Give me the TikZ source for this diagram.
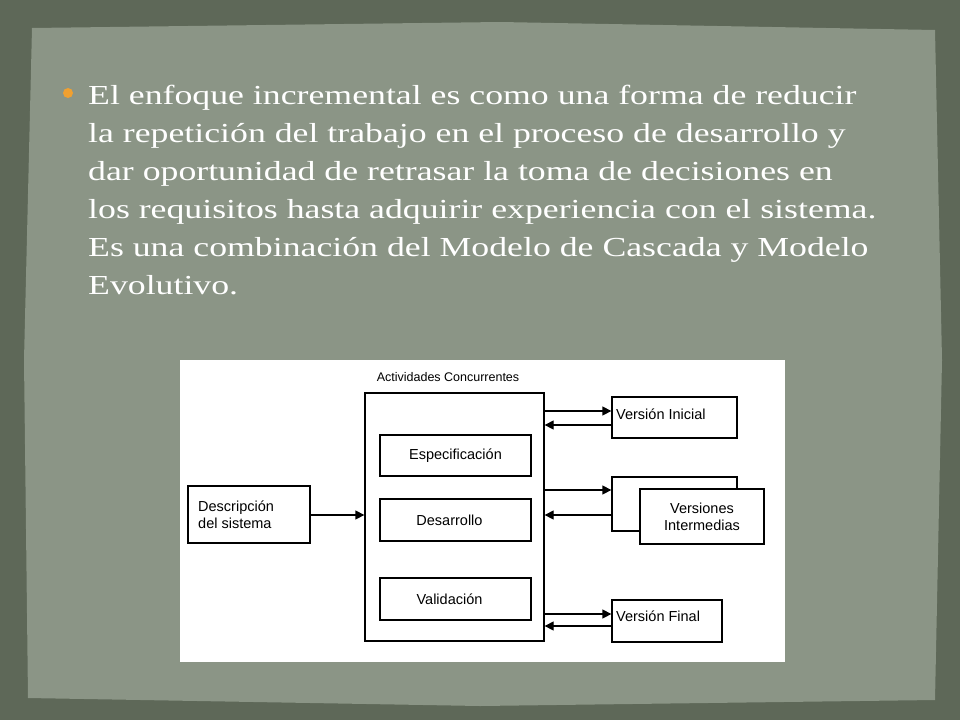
\documentclass[tikz,border=0pt]{standalone}
\usepackage{fontspec}
\setmainfont{Liberation Serif}[FakeStretch=1.3]
\newfontfamily\diag{Liberation Sans}
\usetikzlibrary{arrows.meta}
\definecolor{outerbg}{HTML}{5E6858}
\definecolor{panel}{HTML}{8B9586}
\definecolor{bul}{HTML}{F0A030}
\begin{document}
\begin{tikzpicture}[x=1pt,y=-1pt,
  txt/.style={anchor=base west,inner sep=0pt,font=\fontsize{27.5}{30}\selectfont,text=white},
  bx/.style={draw=black,line width=1.3pt,fill=white,inner sep=0pt,font=\diag\fontsize{14.5}{17}\selectfont,align=center},
  lbl/.style={anchor=west,inner sep=0pt,font=\diag\fontsize{14.5}{17}\selectfont},
  arr/.style={-{Triangle[length=9pt,width=9pt]},line width=1.3pt}]
\useasboundingbox (0,0) rectangle (960,720);
\fill[outerbg] (0,0) rectangle (960,720);
\fill[panel] (32,28) -- (500,22) -- (935,30) -- (942,360) -- (935,700) -- (480,706) -- (28,698) -- (24,360) -- cycle;
\fill[bul] (68,93) circle (5);
\node[txt] (l1) at (88,104) {El enfoque incremental es como una forma de reducir};
\node[txt] (l2) at (88,142) {la repetición del trabajo en el proceso de desarrollo y};
\node[txt] (l3) at (88,180) {dar oportunidad de retrasar la toma de decisiones en};
\node[txt] (l4) at (88,218) {los requisitos hasta adquirir experiencia con el sistema.};
\node[txt] (l5) at (88,256) {Es una combinación del Modelo de Cascada y Modelo};
\node[txt] (l6) at (88,294) {Evolutivo.};
\fill[white] (180,360) rectangle (785,662);
\node[font=\diag\fontsize{12.5}{14}\selectfont] (title) at (448,377) {Actividades Concurrentes};
\node[bx,minimum width=179,minimum height=248] (main) at (454.5,517) {};
\node[bx,minimum width=151,minimum height=41] (esp) at (455.5,455.5) {Especificación};
\node[bx,minimum width=151,minimum height=42] (des) at (455.5,520) {\hspace{-12pt}Desarrollo};
\node[bx,minimum width=151,minimum height=42] (val) at (455.5,599) {\hspace{-12pt}Validación};
\node[bx,minimum width=122,minimum height=57] (dsc) at (249,514.5) {};
\node[lbl,align=left] (dsct) at (198,514.5) {Descripción\\del sistema};
\node[bx,minimum width=125,minimum height=41] (vi) at (674.5,417.5) {};
\node[lbl] (vit) at (616,414) {Versión Inicial};
\node[bx,minimum width=125,minimum height=54] (vback) at (674.5,504) {};
\node[bx,minimum width=124,minimum height=55] (vm) at (702,516.5) {Versiones\\Intermedias};
\node[bx,minimum width=110,minimum height=42] (vf) at (667,621) {};
\node[lbl] (vft) at (616,616) {Versión Final};
\draw[arr] (dsc.east |- 0,515) -- (main.west |- 0,515);
\draw[arr] (main.east |- 0,411) -- (vi.west |- 0,411);
\draw[arr] (vi.west |- 0,425) -- (main.east |- 0,425);
\draw[arr] (main.east |- 0,490) -- (vback.west |- 0,490);
\draw[arr] (vback.west |- 0,515) -- (main.east |- 0,515);
\draw[arr] (main.east |- 0,614) -- (vf.west |- 0,614);
\draw[arr] (vf.west |- 0,626) -- (main.east |- 0,626);
\end{tikzpicture}
\end{document}
